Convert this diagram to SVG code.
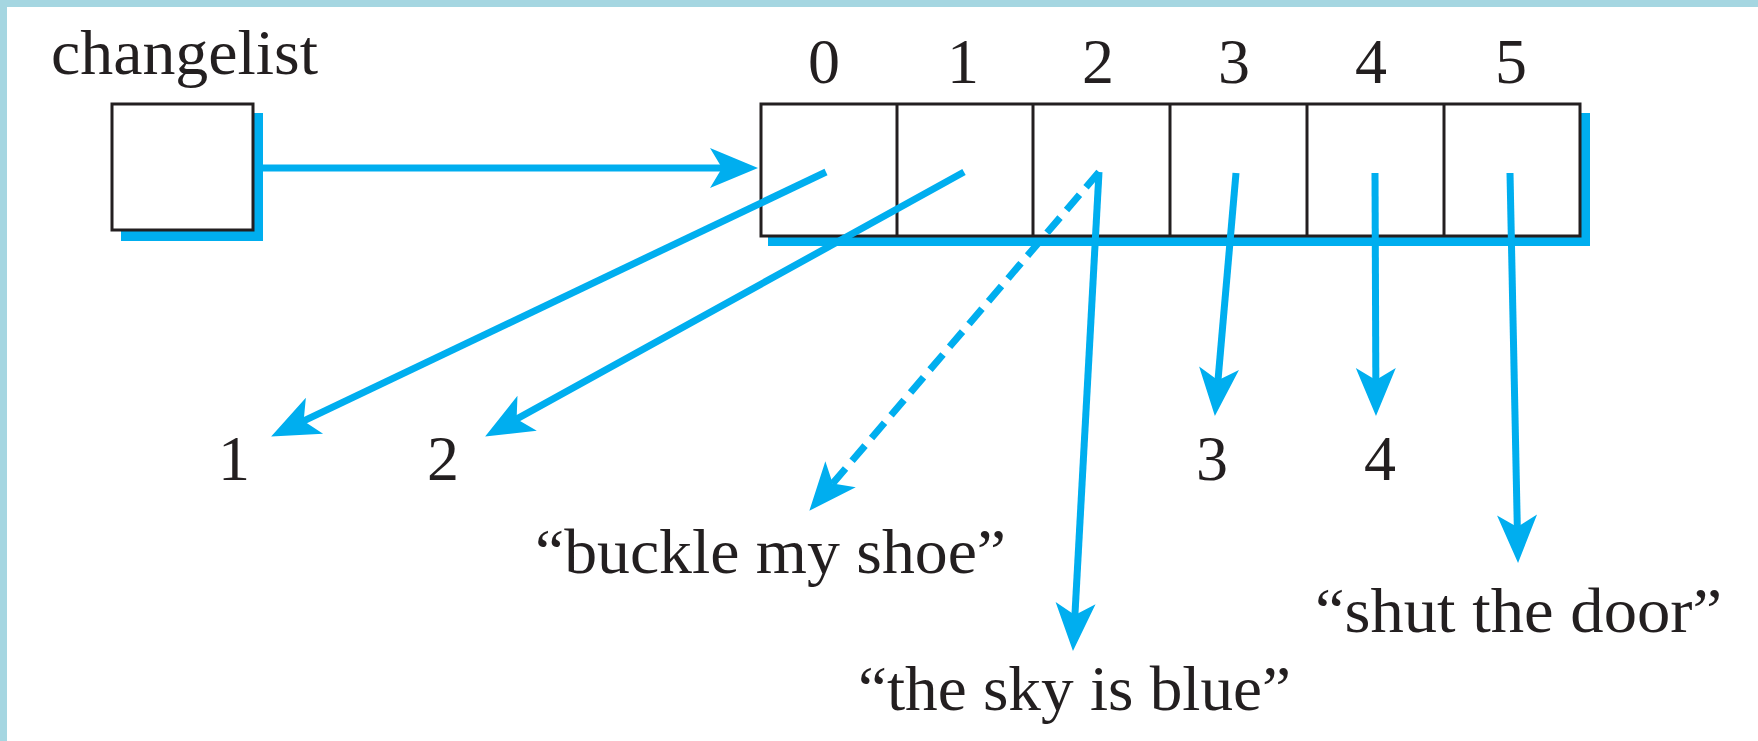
<svg xmlns="http://www.w3.org/2000/svg" width="1758" height="741" viewBox="0 0 1758 741">
  <style>
    .lbl { font-family: "Liberation Serif", "Times New Roman", serif; font-size: 64px; fill: #231f20; }
    .mid { text-anchor: middle; }
    .box { fill: #ffffff; stroke: #231f20; stroke-width: 3; }
    .shadow { fill: #00aeef; }
    .cell { stroke: #231f20; stroke-width: 3; }
    .ptr { fill: none; stroke: #00aeef; stroke-width: 7; marker-end: url(#head); }
    .dash { stroke-dasharray: 20 10; }
  </style>
  <defs>
    <marker id="head" markerUnits="userSpaceOnUse" markerWidth="60" markerHeight="50" viewBox="0 -25 60 50" refX="27" refY="0" orient="auto" overflow="visible">
      <path d="M48 0 L0 -20 L12 0 L0 20 Z" fill="#00aeef"/>
    </marker>
  </defs>
  <rect width="1758" height="741" fill="#ffffff"/>
  <rect x="0" y="0" width="1758" height="7" fill="#a5d6e1"/>
  <rect x="0" y="0" width="7" height="741" fill="#a5d6e1"/>

  <g id="changelist">
    <text class="lbl" x="51" y="74" textLength="267" lengthAdjust="spacingAndGlyphs">changelist</text>
    <rect class="shadow" x="121" y="113" width="142" height="128"/>
    <rect class="box" x="112" y="104" width="141" height="126"/>
  </g>

  <g id="array">
    <rect class="shadow" x="768" y="113" width="822" height="133"/>
    <rect class="box" x="761" y="104" width="819" height="132"/>
    <line class="cell" x1="897" y1="104" x2="897" y2="236"/>
    <line class="cell" x1="1033" y1="104" x2="1033" y2="236"/>
    <line class="cell" x1="1170" y1="104" x2="1170" y2="236"/>
    <line class="cell" x1="1307" y1="104" x2="1307" y2="236"/>
    <line class="cell" x1="1444" y1="104" x2="1444" y2="236"/>
    <text class="lbl mid" x="824" y="83">0</text>
    <text class="lbl mid" x="963" y="83">1</text>
    <text class="lbl mid" x="1098" y="83">2</text>
    <text class="lbl mid" x="1234" y="83">3</text>
    <text class="lbl mid" x="1371" y="83">4</text>
    <text class="lbl mid" x="1511" y="83">5</text>
  </g>

  <g id="value-1"><text class="lbl mid" x="234" y="480">1</text></g>
  <g id="value-2"><text class="lbl mid" x="443" y="480">2</text></g>
  <g id="value-3"><text class="lbl mid" x="1212" y="480">3</text></g>
  <g id="value-4"><text class="lbl mid" x="1380" y="480">4</text></g>
  <g id="value-buckle"><text class="lbl" x="535" y="573" textLength="471" lengthAdjust="spacingAndGlyphs">“buckle my shoe”</text></g>
  <g id="value-sky"><text class="lbl" x="858" y="710" textLength="433" lengthAdjust="spacingAndGlyphs">“the sky is blue”</text></g>
  <g id="value-door"><text class="lbl" x="1315" y="632" textLength="407" lengthAdjust="spacingAndGlyphs">“shut the door”</text></g>

  <g id="connectors">
    <line class="ptr" x1="263" y1="168" x2="737" y2="168"/>
    <line class="ptr" x1="826" y1="172" x2="290.1" y2="427.4"/>
    <line class="ptr" x1="964" y1="172" x2="503.5" y2="426.3"/>
    <line class="ptr dash" x1="1099" y1="172" x2="823" y2="494.8"/>
    <line class="ptr" x1="1099" y1="172" x2="1074.1" y2="630"/>
    <line class="ptr" x1="1236" y1="173" x2="1216.7" y2="395.1"/>
    <line class="ptr" x1="1375" y1="173" x2="1375.9" y2="395"/>
    <line class="ptr" x1="1510" y1="173" x2="1517.6" y2="542"/>
  </g>
</svg>
